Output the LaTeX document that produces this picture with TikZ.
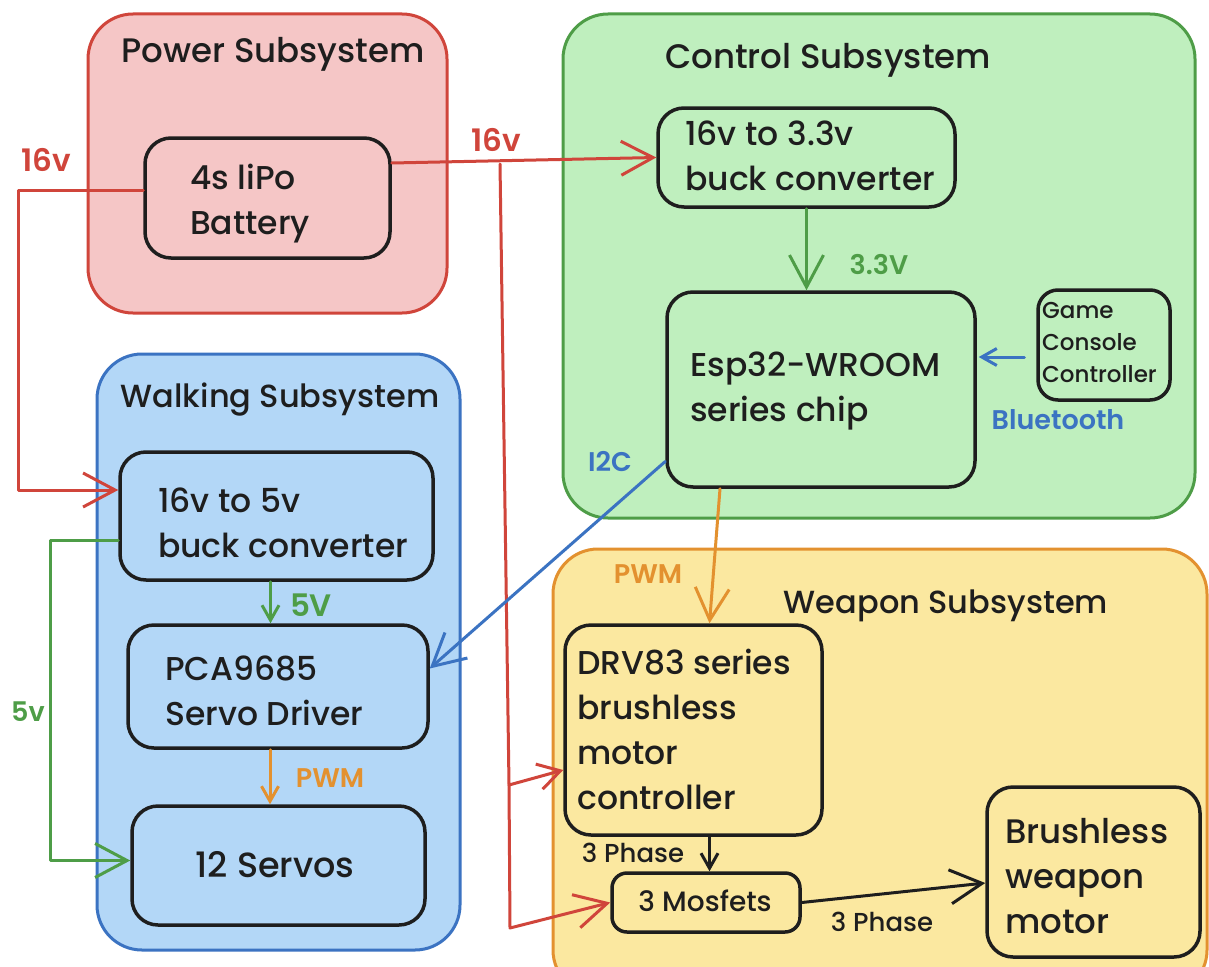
\documentclass[tikz,border=0pt]{standalone}
\usepackage{fontspec}
\setmainfont{Poppins}[UprightFont={* Medium}, BoldFont={* SemiBold}]
\usetikzlibrary{arrows.meta}
\definecolor{ink}{HTML}{1E1E1E}
\definecolor{pwr}{HTML}{D0453B}
\definecolor{pwrfill}{HTML}{F5C6C6}
\definecolor{ctl}{HTML}{4E9D47}
\definecolor{ctlfill}{HTML}{BFEFBE}
\definecolor{walk}{HTML}{3B73C2}
\definecolor{walkfill}{HTML}{B3D7F7}
\definecolor{wpn}{HTML}{E3912F}
\definecolor{wpnfill}{HTML}{FBE8A0}
\begin{document}
\begin{tikzpicture}[x=1pt,y=-1pt,
  group/.style={line width=3pt, rounded corners=45pt, inner sep=0pt},
  part/.style={draw=ink, line width=3.5pt, rounded corners=26pt, inner sep=0pt},
  body/.style={font=\fontsize{33}{45}\selectfont, text=ink, align=left, inner sep=0pt, anchor=west},
  title/.style={font=\fontsize{32}{36}\selectfont, text=ink, inner sep=0pt},
  bigtitle/.style={title, font=\fontsize{34}{38}\selectfont},
  tag/.style={font=\bfseries\fontsize{27}{30}\selectfont, inner sep=0pt},
  wire/.style={line width=3pt, line cap=round, line join=round},
  bighead/.style={-{Straight Barb[length=32pt,width=34pt]}},
  midhead/.style={-{Straight Barb[length=22pt,width=26pt]}},
  smallhead/.style={-{Straight Barb[length=15pt,width=17pt]}}]
\clip (0,0) rectangle (1209,966);
\fill[white] (0,0) rectangle (1209,966);

% subsystem frames
\node[group, draw=pwr, fill=pwrfill, minimum width=359pt, minimum height=299pt] (power) at (267.5,163.5) {};
\node[group, draw=ctl, fill=ctlfill, minimum width=632pt, minimum height=504pt] (control) at (879,266) {};
\node[group, draw=walk, fill=walkfill, minimum width=363pt, minimum height=596pt] (walking) at (278.5,652) {};
\node[group, draw=wpn, fill=wpnfill, minimum width=654pt, minimum height=446pt] (weapon) at (880,772) {};

\node[bigtitle] (power-title) at (273,54) {Power Subsystem};
\node[bigtitle] (control-title) at (828,60) {Control Subsystem};
\node[title] (walking-title) at (280,400) {Walking Subsystem};
\node[title] (weapon-title) at (946,606) {Weapon Subsystem};

% components
\node[part, minimum width=245pt, minimum height=120pt] (battery) at (267.5,198) {};
\node[body] (battery-t) at (190,204) {4s liPo\\Battery};

\node[part, minimum width=297pt, minimum height=99pt] (buck33) at (806.5,157.5) {};
\node[body] (buck33-t) at (685,156) {16v to 3.3v\\buck converter};

\node[part, minimum width=308pt, minimum height=195pt] (esp) at (821,389.5) {};
\node[body] (esp-t) at (690,391) {Esp32-WROOM\\series chip};

\node[part, rounded corners=20pt, minimum width=132pt, minimum height=110pt] (gcc) at (1104,345) {};
\node[body, font=\fontsize{23}{32}\selectfont] (gcc-t) at (1042,343) {Game\\Console\\Controller};

\node[part, minimum width=313pt, minimum height=128pt] (buck5v) at (276.5,516) {};
\node[body] (buck5v-t) at (158,523) {16v to 5v\\buck converter};

\node[part, minimum width=300pt, minimum height=123pt] (pca) at (278,686.5) {};
\node[body] (pca-t) at (165,691) {PCA9685\\Servo Driver};

\node[part, minimum width=293pt, minimum height=119pt] (servos) at (278.5,865.5) {};
\node[body, anchor=center, font=\fontsize{35}{45}\selectfont] (servos-t) at (275,865) {12 Servos};

\node[part, minimum width=257pt, minimum height=210pt] (drv) at (693.5,730) {};
\node[body] (drv-t) at (577,729) {DRV83 series\\brushless\\motor\\controller};

\node[part, rounded corners=15pt, minimum width=188pt, minimum height=59pt] (mos) at (706,902.5) {};
\node[body, anchor=center, font=\fontsize{28}{30}\selectfont] (mos-t) at (705,901) {3 Mosfets};

\node[part, minimum width=213pt, minimum height=170pt] (brushless) at (1093.5,872) {};
\node[body, font=\fontsize{34}{45}\selectfont] (brushless-t) at (1005,876) {Brushless\\weapon\\motor};

% helper points for the wiring
\coordinate (railL) at (18,190);
\coordinate (railG) at (50,540);
\coordinate (battL) at ([yshift=8pt]battery.west);
\coordinate (battR) at ([yshift=35pt]battery.east);
\coordinate (b5in) at ([yshift=26pt]buck5v.west);
\coordinate (b5out) at ([yshift=-24pt]buck5v.west);
\coordinate (srvin) at ([yshift=5pt]servos.west);
\coordinate (tapTop) at (500,164);
\coordinate (tapMid) at (509,785);
\coordinate (tapBot) at (510,928);
\coordinate (drvin) at ([yshift=-40pt]drv.west);
\coordinate (gccout) at ([yshift=-12pt]gcc.west);
\coordinate (espI2C) at ([yshift=-72pt]esp.west);
\coordinate (pcain) at ([yshift=18pt]pca.east);
\coordinate (espPWM) at ([xshift=-101pt]esp.south);
\coordinate (drvtop) at ([xshift=16pt]drv.north);
\coordinate (drvbot) at ([xshift=16pt]drv.south);
\coordinate (b5down) at ([xshift=-6pt]buck5v.south);
\coordinate (pcadown) at ([xshift=-8pt]pca.south);
\coordinate (brin) at ([yshift=-11pt]brushless.west);

% 16v supply
\draw[wire, draw=pwr, bighead] (battL) -| (b5in -| railL) -- (b5in);
\draw[wire, draw=pwr, bighead] (battR) -- (buck33.west);
\draw[wire, draw=pwr, midhead] (tapTop) -- (tapMid) -- (drvin);
\draw[wire, draw=pwr, bighead] (tapMid) -- (tapBot) -- (mos.west);
\node[tag, text=pwr, font=\bfseries\fontsize{31}{34}\selectfont] (v16a) at (46,160) {16v};
\node[tag, text=pwr, font=\bfseries\fontsize{31}{34}\selectfont] (v16b) at (496,140) {16v};

% control
\draw[wire, draw=ctl, bighead] (buck33.south) -- (buck33.south |- esp.north);
\node[tag, text=ctl] (v33) at (879,265) {3.3V};
\draw[wire, draw=walk, smallhead, shorten <=12pt, shorten >=2pt] (gccout) -- (gccout -| esp.east);
\node[tag, text=walk] (bt) at (1058,420) {Bluetooth};
\draw[wire, draw=walk, bighead] (espI2C) -- (pcain);
\node[tag, text=walk] (i2c) at (610,462) {I2C};
\draw[wire, draw=wpn, bighead] (espPWM) -- (drvtop);
\node[tag, text=wpn] (pwm1) at (648,574) {PWM};

% walking
\draw[wire, draw=ctl, smallhead] (b5down) -- (b5down |- pca.north);
\node[tag, text=ctl, font=\bfseries\fontsize{31}{34}\selectfont] (v5a) at (311,605) {5V};
\draw[wire, draw=wpn, smallhead] (pcadown) -- (pcadown |- servos.north);
\node[tag, text=wpn] (pwm2) at (330,778) {PWM};
\draw[wire, draw=ctl, bighead] (b5out) -- (railG) |- (srvin);
\node[tag, text=ctl] (v5b) at (28,712) {5v};

% weapon
\draw[wire, draw=ink, smallhead] (drvbot) -- (drvbot |- mos.north);
\node[tag, text=ink, font=\fontsize{26}{30}\selectfont] (ph1) at (633,853) {3 Phase};
\draw[wire, draw=ink, bighead] (mos.east) -- (brin);
\node[tag, text=ink, font=\fontsize{26}{30}\selectfont] (ph2) at (882,922) {3 Phase};
\end{tikzpicture}
\end{document}
